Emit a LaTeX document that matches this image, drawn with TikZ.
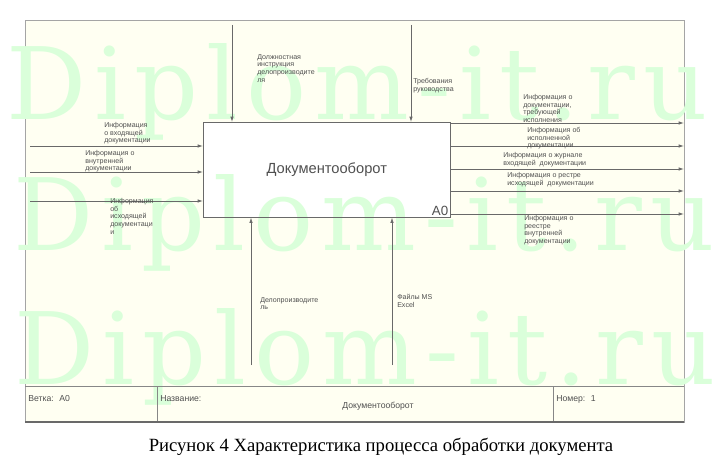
\documentclass[tikz,border=0pt]{standalone}
\usepackage{fontspec}
\setmainfont{Liberation Sans}
\newfontfamily\capserif{Liberation Serif}
\newfontfamily\markserif[LetterSpace=8]{DejaVu Serif}
\usetikzlibrary{arrows.meta}

\definecolor{linegray}{RGB}{105,105,105}
\definecolor{textgray}{RGB}{80,80,80}
\definecolor{sheet}{RGB}{255,255,242}
\definecolor{wmgreen}{RGB}{218,255,218}

\tikzset{
  arr/.style={draw=linegray, line width=0.6pt, -{Latex[length=4pt,width=2.6pt]}},
  lbl/.style={anchor=north west, inner sep=0pt, align=left, text=textgray,
    font=\fontsize{5.3}{5.8}\selectfont},
  foot/.style={anchor=north west, inner sep=0pt, text=textgray,
    font=\fontsize{6.5}{7}\selectfont},
  wmark/.style={anchor=base west, inner sep=0pt, text=wmgreen,
    font=\markserif\fontsize{75}{75}\selectfont},
}

\begin{document}
\begin{tikzpicture}[x=0.75pt,y=0.75pt,yscale=-1,xscale=1]
\useasboundingbox (0,0) rectangle (719,460);

%Shape: Sheet
\draw [draw=linegray!60, fill=sheet] (25,20) rectangle (684,422);
%Shape: Process box
\node [fill=white, anchor=north west, minimum width=185.25pt, minimum height=71.25pt, inner sep=0pt] (doc) at (203,122) {};

% Watermark
\node [wmark] (wm1) at (6,120) {Diplom-it.ru};
\node [wmark] (wm2) at (13,251) {Diplom-it.ru};
\node [wmark] (wm3) at (14,384) {Diplom-it.ru};

\draw [draw=linegray, line width=0.6pt] (doc.north west) rectangle (doc.south east);
% Text Node
\node [text=textgray, font=\fontsize{11}{13}\selectfont] (title) at (doc.center) {Документооборот};
% Text Node
\node [anchor=south east, inner sep=1.5pt, text=textgray, font=\fontsize{10}{12}\selectfont] (code) at (doc.south east) {A0};

%Straight Lines: inputs
\coordinate (in1) at (30,146);
\coordinate (in2) at (30,172);
\coordinate (in3) at (30,201);
\draw [arr] (in1) -- (in1 -| doc.west);
\draw [arr] (in2) -- (in2 -| doc.west);
\draw [arr] (in3) -- (in3 -| doc.west);

%Straight Lines: controls
\coordinate (ctl1) at (232,25);
\coordinate (ctl2) at (411,25);
\draw [arr] (ctl1) -- (ctl1 |- doc.north);
\draw [arr] (ctl2) -- (ctl2 |- doc.north);

%Straight Lines: mechanisms
\coordinate (mech1) at (251,365);
\coordinate (mech2) at (392,365);
\draw [arr] (mech1) -- (mech1 |- doc.south);
\draw [arr] (mech2) -- (mech2 |- doc.south);

%Straight Lines: outputs
\coordinate (out1) at (684,123);
\coordinate (out2) at (684,146);
\coordinate (out3) at (684,169);
\coordinate (out4) at (684,191);
\coordinate (out5) at (684,214);
\draw [arr] (out1 -| doc.east) -- (out1);
\draw [arr] (out2 -| doc.east) -- (out2);
\draw [arr] (out3 -| doc.east) -- (out3);
\draw [arr] (out4 -| doc.east) -- (out4);
\draw [arr] (out5 -| doc.east) -- (out5);

% Text Node
\node [lbl] (in1lbl) at (104,122) {Информация\\о входящей\\документации};
% Text Node
\node [lbl] (in2lbl) at (85,150) {Информация о\\внутренней\\документации};
% Text Node
\node [lbl] (in3lbl) at (110,198) {Информация\\об\\исходящей\\документаци\\и};
% Text Node
\node [lbl] (ctl1lbl) at (257,54) {Должностная\\инструкция\\делопроизводите\\ля};
% Text Node
\node [lbl] (ctl2lbl) at (413,78) {Требования\\руководства};
% Text Node
\node [lbl] (out1lbl) at (523,94) {Информация о\\документации,\\требующей\\исполнения};
% Text Node
\node [lbl] (out2lbl) at (527,127) {Информация об\\исполненной\\документации};
% Text Node
\node [lbl] (out3lbl) at (503,152) {Информация о журнале\\входящей~~документации};
% Text Node
\node [lbl] (out4lbl) at (507,172) {Информация о рестре\\исходящей~~документации};
% Text Node
\node [lbl] (out5lbl) at (524,215) {Информация о\\реестре\\внутренней\\документации};
% Text Node
\node [lbl] (mech1lbl) at (260,297) {Делопроизводите\\ль};
% Text Node
\node [lbl] (mech2lbl) at (397,294) {Файлы MS\\Excel};

%Straight Lines: footer
\draw [draw=linegray!80] (25,386) -- (684,386);
\draw [draw=linegray!80] (157,386) -- (157,422);
\draw [draw=linegray!80] (553,386) -- (553,422);
\draw [draw=linegray, line width=1pt] (25,422) -- (684,422);

% Text Node
\node [foot] (branch) at (28,395) {Ветка:~ А0};
% Text Node
\node [foot] (name) at (160,395) {Название:};
% Text Node
\node [foot, anchor=center] (namevalue) at (378,406) {Документооборот};
% Text Node
\node [foot] (number) at (556,395) {Номер:~ 1};

% Text Node
\node [font=\capserif\fontsize{14}{16}\selectfont] (caption) at (381,447) {Рисунок 4 Характеристика процесса обработки документа};

\end{tikzpicture}
\end{document}
